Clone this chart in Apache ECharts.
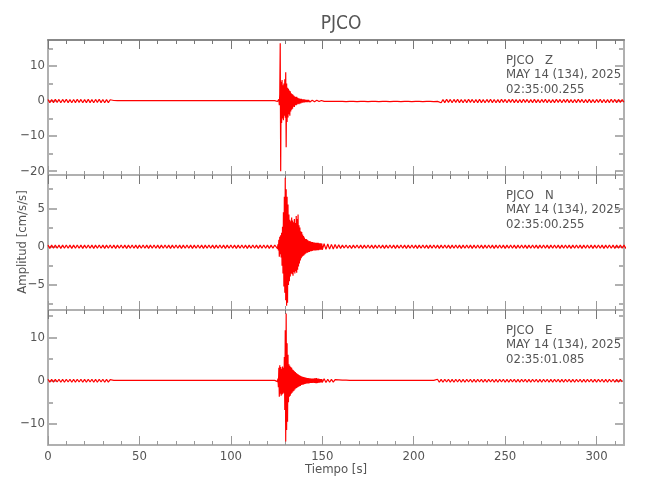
<!DOCTYPE html>
<html>
<head>
<meta charset="utf-8">
<script src="https://cdn.jsdelivr.net/npm/echarts@6/dist/echarts.min.js"></script>
<style>html,body{margin:0;padding:0;background:#fff}#c{width:650px;height:500px}</style>
</head>
<body>
<div id="c"></div>
<script>
// ---------- data ----------
const stationName = 'PJCO';
const components = ['Z', 'N', 'E'];
const dateText = 'MAY 14 (134), 2025';
const startTimes = ['02:35:00.255', '02:35:00.255', '02:35:01.085'];

const xMin = 0, xMax = 315;
const xMajor = [0, 50, 100, 150, 200, 250, 300];
const xMinor = [10,20,30,40,60,70,80,90,110,120,130,140,160,170,180,190,210,220,230,240,260,270,280,290,310];

const zRange = [-21.1, 17.4];
const nRange = [-8.26, 9.35];
const eRange = [-14.9, 16.4];
const zMajor = [-20, -10, 0, 10];
const zMinor = [-15, -5, 5, 15];
const nMajor = [-5, 0, 5];
const nMinor = [-7.5, -2.5, 2.5, 7.5];
const eMajor = [-10, 0, 10];
const eMinor = [-5, 5, 15];

// sampling: pre-event t = 0..125 s (1 s), event t = 125.5..149.75 s (0.25 s), post-event t = 150..315 s (1 s)
const preStart = 0, preStep = 1;
const evStart = 125.5, evStep = 0.25;
const postStart = 150, postStep = 1;

const zPre = [
0.45,-0.5,0.4,-0.45,0.5,-0.4,0.45,-0.5,0.45,-0.4,
0.5,-0.45,0.4,-0.5,0.45,-0.45,0.5,-0.4,0.45,-0.5,
0.4,-0.45,0.5,-0.45,0.4,-0.5,0.45,-0.4,0.5,-0.45,
0.45,-0.5,0.4,-0.45,0.35,
-0.2,0.15,-0.12,0.1,-0.15,0.12,-0.1,0.15,-0.12,0.1,
-0.15,0.12,-0.1,0.15,-0.12,0.1,-0.15,0.12,-0.1,0.15,
-0.12,0.1,-0.15,0.12,-0.1,0.15,-0.12,0.1,-0.15,0.12,
-0.1,0.15,-0.12,0.1,-0.15,0.12,-0.1,0.15,-0.12,0.1,
-0.15,0.12,-0.1,0.15,-0.12,0.1,-0.15,0.12,-0.1,0.15,
-0.12,0.1,-0.15,0.12,-0.1,0.15,-0.12,0.1,-0.15,0.12,
-0.1,0.15,-0.12,0.1,-0.15,0.12,-0.1,0.15,-0.12,0.1,
-0.15,0.12,-0.1,0.15,-0.12,0.1,-0.15,0.12,-0.1,0.15,
-0.12,0.1,-0.15,0.12,-0.1,0.15,-0.12,0.1,-0.15,0.12,
0.15];
const zEvent = [
-0.15,0.2,-0.3,0.5,
-1.2,2,16.5,-20,
5.5,-6.3,6,-5,
4.5,-5.5,5,-4.2,
6.2,-4.8,8.2,-13.2,
5,-6,3.8,-4.7,
3.5,-3.8,3,-4.2,
2.8,-3,2.2,-2.5,
2,-2.2,1.8,-1.6,
1.5,-1.7,1.3,-1.2,
1.1,-1.2,1.2,-1.0,
0.9,-0.8,0.8,-0.9,
0.7,-0.7,0.6,-0.7,
0.6,-0.5,0.5,-0.5,
0.45,-0.4,0.45,-0.4,
0.4,-0.35,0.35,-0.35,
0.3,-0.35,0.3,-0.3,
0.3,-0.25,0.25,-0.3,
0.25,-0.25,0.25,-0.2,
0.2,-0.25,0.2,-0.2,
0.2,-0.2,0.2,-0.18,
0.18,-0.2,0.2,-0.18,
0.18,-0.15,0.18,-0.15,
0.15,-0.15,0.15,-0.15,
0.15,-0.12];
const zPost = [
0.12,-0.12,0.15,-0.12,0.1,-0.12,0.12,-0.1,0.12,-0.12,0.1,
-0.12,0.1,-0.15,0.12,-0.1,0.15,-0.12,0.1,-0.15,0.12,
-0.1,0.15,-0.12,0.1,-0.15,0.12,-0.1,0.15,-0.12,0.1,
-0.15,0.12,-0.1,0.15,-0.12,0.1,-0.15,0.12,-0.1,0.15,
-0.12,0.1,-0.15,0.12,-0.1,0.15,-0.12,0.1,-0.15,0.12,
-0.1,0.15,-0.12,0.1,-0.15,0.12,-0.1,0.15,-0.12,0.1,
-0.15,0.12,-0.1,
0.45,-0.5,0.4,-0.45,0.5,-0.4,0.45,-0.5,0.45,-0.4,
0.5,-0.45,0.4,-0.5,0.45,-0.45,0.5,-0.4,0.45,-0.5,
0.4,-0.45,0.5,-0.45,0.4,-0.5,0.45,-0.4,0.5,-0.45,
0.45,-0.5,0.4,-0.45,0.5,-0.4,0.45,-0.5,0.45,-0.4,
0.5,-0.45,0.4,-0.5,0.45,-0.45,0.5,-0.4,0.45,-0.5,
0.4,-0.45,0.5,-0.45,0.4,-0.5,0.45,-0.4,0.5,-0.45,
0.45,-0.5,0.4,-0.45,0.5,-0.4,0.45,-0.5,0.45,-0.4,
0.5,-0.45,0.4,-0.5,0.45,-0.45,0.5,-0.4,0.45,-0.5,
0.4,-0.45,0.5,-0.45,0.4,-0.5,0.45,-0.4,0.5,-0.45,
0.45,-0.5,0.4,-0.45,0.5,-0.4,0.45,-0.5,0.45,-0.4,
0.4,-0.35];

const nPre = [
0.2,-0.22,0.2,-0.2,0.22,-0.2,0.2,-0.22,0.2,-0.2,
0.22,-0.2,0.2,-0.22,0.2,-0.2,0.22,-0.2,0.2,-0.22,
0.2,-0.2,0.22,-0.2,0.2,-0.22,0.2,-0.2,0.22,-0.2,
0.2,-0.22,0.2,-0.2,0.22,-0.2,0.2,-0.22,0.2,-0.2,
0.22,-0.2,0.2,-0.22,0.2,-0.2,0.22,-0.2,0.2,-0.22,
0.2,-0.2,0.22,-0.2,0.2,-0.22,0.2,-0.2,0.22,-0.2,
0.2,-0.22,0.2,-0.2,0.22,-0.2,0.2,-0.22,0.2,-0.2,
0.22,-0.2,0.2,-0.22,0.2,-0.2,0.22,-0.2,0.2,-0.22,
0.2,-0.2,0.22,-0.2,0.2,-0.22,0.2,-0.2,0.22,-0.2,
0.2,-0.22,0.2,-0.2,0.22,-0.2,0.2,-0.22,0.2,-0.2,
0.22,-0.2,0.2,-0.22,0.2,-0.2,0.22,-0.2,0.2,-0.22,
0.2,-0.2,0.22,-0.2,0.2,-0.22,0.2,-0.2,0.22,-0.2,
0.2,-0.22,0.2,-0.2,0.22,0.25];
const nEvent = [
-0.25,0.3,-0.5,0.9,
-1.3,1.3,-1.0,1.5,
-1.4,1.8,-2.5,2.6,
-3.5,4.5,-5.2,6.5,
-6,9,-7,7.5,
-7.7,6.5,-7.3,5.5,
-5,4.2,-4.5,3.5,
-3.9,3.3,-3.5,3.8,
-3.6,3.4,-3.8,3.2,
-3.3,3.6,-3.5,3.1,
-3.2,4.0,-3.4,3.6,
-3.0,4.2,-2.6,2.8,
-2.2,2.5,-1.8,2.0,
-1.5,1.9,-1.3,1.6,
-1.2,1.4,-1.1,1.2,
-1.0,1.0,-0.9,1.0,
-0.8,0.9,-0.8,0.8,
-0.7,0.7,-0.7,0.75,
-0.6,0.65,-0.6,0.6,
-0.55,0.6,-0.5,0.55,
-0.5,0.55,-0.5,0.5,
-0.5,0.5,-0.45,0.5,
-0.45,0.5,-0.45,0.45,
-0.4,0.45,-0.4,0.45,
-0.4,0.4];
const nPost = [
-0.4,0.38,-0.35,0.35,-0.32,0.3,-0.3,0.28,-0.25,0.25,-0.22,
0.2,-0.18,0.22,-0.2,0.18,-0.22,0.2,-0.18,0.22,-0.2,
0.2,-0.22,0.2,-0.2,0.22,-0.2,0.2,-0.22,0.2,-0.2,
0.22,-0.2,0.2,-0.22,0.2,-0.2,0.22,-0.2,0.2,-0.22,
0.2,-0.2,0.22,-0.2,0.2,-0.22,0.2,-0.2,0.22,-0.2,
0.2,-0.22,0.2,-0.2,0.22,-0.2,0.2,-0.22,0.2,-0.2,
0.22,-0.2,0.2,-0.22,0.2,-0.2,0.22,-0.2,0.2,-0.22,
0.2,-0.2,0.22,-0.2,0.2,-0.22,0.2,-0.2,0.22,-0.2,
0.2,-0.22,0.2,-0.2,0.22,-0.2,0.2,-0.22,0.2,-0.2,
0.22,-0.2,0.2,-0.22,0.2,-0.2,0.22,-0.2,0.2,-0.22,
0.2,-0.2,0.22,-0.2,0.2,-0.22,0.2,-0.2,0.22,-0.2,
0.2,-0.22,0.2,-0.2,0.22,-0.2,0.2,-0.22,0.2,-0.2,
0.22,-0.2,0.2,-0.22,0.2,-0.2,0.22,-0.2,0.2,-0.22,
0.2,-0.2,0.22,-0.2,0.2,-0.22,0.2,-0.2,0.22,-0.2,
0.2,-0.22,0.2,-0.2,0.22,-0.2,0.2,-0.22,0.2,-0.2,
0.22,-0.2,0.2,-0.22,0.2,-0.2,0.22,-0.2,0.2,-0.22,
0.2,-0.2,0.22,-0.2,0.2,-0.22,0.2,-0.2,0.22,-0.2,
0.1];

const ePre = [
0.35,-0.35,0.3,-0.35,0.35,-0.3,0.35,-0.35,0.3,-0.35,
0.35,-0.3,0.35,-0.35,0.3,-0.35,0.35,-0.3,0.35,-0.35,
0.3,-0.35,0.35,-0.3,0.35,-0.35,0.3,-0.35,0.35,-0.3,
0.35,-0.35,0.3,-0.3,0.25,
-0.15,0.1,-0.08,0.1,-0.1,0.08,-0.1,0.1,-0.08,0.1,
-0.1,0.08,-0.1,0.1,-0.08,0.1,-0.1,0.08,-0.1,0.1,
-0.08,0.1,-0.1,0.08,-0.1,0.1,-0.08,0.1,-0.1,0.08,
-0.1,0.1,-0.08,0.1,-0.1,0.08,-0.1,0.1,-0.08,0.1,
-0.1,0.08,-0.1,0.1,-0.08,0.1,-0.1,0.08,-0.1,0.1,
-0.08,0.1,-0.1,0.08,-0.1,0.1,-0.08,0.1,-0.1,0.08,
-0.1,0.1,-0.08,0.1,-0.1,0.08,-0.1,0.1,-0.08,0.1,
-0.1,0.08,-0.1,0.1,-0.08,0.1,-0.1,0.08,-0.1,0.1,
-0.08,0.1,-0.1,0.08,-0.1,0.1,-0.08,0.1,-0.1,0.08,
0.15];
const eEvent = [
-0.2,0.5,-1.5,3.0,
-3.7,3.6,-3.0,3.2,
-3.5,2.8,-3.2,3.3,
-3.0,3.0,-2.8,5.5,
-6.8,11.7,-14.1,15.6,
-11.4,8.7,-9.5,6,
-5,3.8,-3.7,3.5,
-3.5,3.2,-3.0,3.0,
-2.8,2.6,-2.5,2.4,
-2.3,2.2,-2.0,2.0,
-1.8,1.8,-1.7,1.6,
-1.5,1.5,-1.4,1.3,
-1.3,1.2,-1.2,1.1,
-1.0,1.0,-0.9,0.9,
-0.9,0.85,-0.8,0.8,
-0.75,0.75,-0.7,0.7,
-0.65,0.65,-0.6,0.6,
-0.6,0.55,-0.55,0.55,
-0.5,0.5,-0.5,0.5,
-0.5,0.5,-0.45,0.5,
-0.5,0.55,-0.5,0.55,
-0.55,0.6,-0.55,0.5,
-0.5,0.5,-0.45,0.45,
-0.45,0.4,-0.4,0.4,
-0.4,0.4];
const ePost = [
-0.4,0.45,-0.4,0.35,-0.35,0.3,-0.3,0.25,-0.2,0.2,-0.15,
0.12,-0.1,0.12,-0.1,0.08,-0.1,0.1,-0.08,0.1,
-0.1,0.08,-0.1,0.1,-0.08,0.1,-0.1,0.08,-0.1,0.1,
-0.08,0.1,-0.1,0.08,-0.1,0.1,-0.08,0.1,-0.1,0.08,
-0.1,0.1,-0.08,0.1,-0.1,0.08,-0.1,0.1,-0.08,0.1,
-0.1,0.08,-0.1,0.1,-0.08,0.1,-0.1,0.08,-0.1,0.1,
-0.08,0.1,-0.1,
0.35,-0.35,0.3,-0.35,0.35,-0.3,0.35,-0.35,0.3,-0.35,
0.35,-0.3,0.35,-0.35,0.3,-0.35,0.35,-0.3,0.35,-0.35,
0.3,-0.35,0.35,-0.3,0.35,-0.35,0.3,-0.35,0.35,-0.3,
0.35,-0.35,0.3,-0.35,0.35,-0.3,0.35,-0.35,0.3,-0.35,
0.35,-0.3,0.35,-0.35,0.3,-0.35,0.35,-0.3,0.35,-0.35,
0.3,-0.35,0.35,-0.3,0.35,-0.35,0.3,-0.35,0.35,-0.3,
0.35,-0.35,0.3,-0.35,0.35,-0.3,0.35,-0.35,0.3,-0.35,
0.35,-0.3,0.35,-0.35,0.3,-0.35,0.35,-0.3,0.35,-0.35,
0.3,-0.35,0.35,-0.3,0.35,-0.35,0.3,-0.35,0.35,-0.3,
0.35,-0.35,0.3,-0.35,0.35,-0.3,0.35,-0.35,0.3,-0.35,
0.3,-0.25];

// ---------- chart ----------
const FONT = "'Liberation Sans Narrow','DejaVu Sans Condensed','Roboto Condensed',sans-serif";
const TXT = '#555';
const AX = '#b0b0b0';

function build(pre, ev, post) {
  const d = [];
  pre.forEach((v, k) => d.push([preStart + k * preStep, v]));
  ev.forEach((v, k) => d.push([evStart + k * evStep, v]));
  post.forEach((v, k) => d.push([postStart + k * postStep, v]));
  return d;
}
const traces = [build(zPre, zEvent, zPost), build(nPre, nEvent, nPost), build(ePre, eEvent, ePost)];
const ranges = [zRange, nRange, eRange];
const majors = [zMajor, nMajor, eMajor];
const minors = [zMinor, nMinor, eMinor];

const L = 48, W = 576, H = 135, T0 = 40;
const grids = [0, 1, 2].map(i => ({left: L, top: T0 + i * H, width: W, height: H, containLabel: false}));

const fmt = v => (v < 0 ? '\u2212' + Math.abs(v) : String(v));

const xAxes = [], yAxes = [];
for (let i = 0; i < 3; i++) {
  const base = {type: 'value', gridIndex: i, min: xMin, max: xMax, splitLine: {show: false}};
  const topColor = i === 0 ? '#888' : AX;
  xAxes.push(Object.assign({}, base, {position: 'bottom',
    axisLine: {show: true, onZero: false, lineStyle: {color: AX, width: 2}},
    axisTick: {show: true, inside: true, length: 9, customValues: xMajor, lineStyle: {color: '#999', width: 1}},
    axisLabel: {show: i === 2, customValues: xMajor, color: TXT, fontFamily: FONT, fontSize: 13, margin: 5}}));
  xAxes.push(Object.assign({}, base, {position: 'bottom',
    axisLine: {show: false, onZero: false},
    axisTick: {show: true, inside: true, length: 4, customValues: xMinor, lineStyle: {color: '#999', width: 1}},
    axisLabel: {show: false}}));
  xAxes.push(Object.assign({}, base, {position: 'top',
    axisLine: {show: true, onZero: false, lineStyle: {color: topColor, width: 2}},
    axisTick: {show: true, inside: true, length: 9, customValues: xMajor, lineStyle: {color: '#777', width: 1}},
    axisLabel: {show: false}}));
  xAxes.push(Object.assign({}, base, {position: 'top',
    axisLine: {show: false, onZero: false},
    axisTick: {show: true, inside: true, length: 4, customValues: xMinor, lineStyle: {color: '#777', width: 1}},
    axisLabel: {show: false}}));

  const yb = {type: 'value', gridIndex: i, min: ranges[i][0], max: ranges[i][1], splitLine: {show: false}};
  yAxes.push(Object.assign({}, yb, {position: 'left',
    axisLine: {show: true, onZero: false, lineStyle: {color: AX, width: 2}},
    axisTick: {show: true, inside: true, length: 9, customValues: majors[i], lineStyle: {color: AX, width: 2}},
    axisLabel: {show: true, customValues: majors[i], formatter: fmt, color: TXT, fontFamily: FONT, fontSize: 13, margin: 3}}));
  yAxes.push(Object.assign({}, yb, {position: 'left',
    axisLine: {show: false, onZero: false},
    axisTick: {show: true, inside: true, length: 5, customValues: minors[i], lineStyle: {color: AX, width: 2}},
    axisLabel: {show: false}}));
  yAxes.push(Object.assign({}, yb, {position: 'right',
    axisLine: {show: true, onZero: false, lineStyle: {color: AX, width: 2}},
    axisTick: {show: true, inside: true, length: 9, customValues: majors[i], lineStyle: {color: AX, width: 2}},
    axisLabel: {show: false}}));
  yAxes.push(Object.assign({}, yb, {position: 'right',
    axisLine: {show: false, onZero: false},
    axisTick: {show: true, inside: true, length: 5, customValues: minors[i], lineStyle: {color: AX, width: 2}},
    axisLabel: {show: false}}));
}

const series = traces.map((d, i) => ({
  type: 'line', xAxisIndex: 4 * i, yAxisIndex: 4 * i, data: d,
  showSymbol: false, symbol: 'none', sampling: null, animation: false,
  lineStyle: {color: '#ff0000', width: 1.2}, z: 1
}));

const graphics = [];
components.forEach((c, i) => {
  const top = T0 + i * H;
  const lines = [stationName + '   ' + c, dateText, startTimes[i]];
  lines.forEach((s, k) => graphics.push({type: 'text', left: 506, top: top + 14 + k * 14.5,
    style: {text: s, fill: TXT, font: '13px ' + FONT}}));
});
graphics.push({type: 'text', x: 23, y: 242, rotation: Math.PI / 2,
  style: {text: 'Amplitud [cm/s/s]', fill: TXT, font: '13px ' + FONT, align: 'center', verticalAlign: 'middle'}});
graphics.push({type: 'text', x: 336, y: 470,
  style: {text: 'Tiempo [s]', fill: TXT, font: '13px ' + FONT, align: 'center', verticalAlign: 'middle'}});

const chart = echarts.init(document.getElementById('c'), null, {renderer: 'canvas'});
chart.setOption({
  animation: false,
  backgroundColor: '#fff',
  title: {text: stationName, left: 336, top: 10, textAlign: 'center',
    textStyle: {color: TXT, fontFamily: FONT, fontSize: 19, fontWeight: 'normal'}},
  grid: grids,
  xAxis: xAxes,
  yAxis: yAxes,
  series: series,
  graphic: graphics
});
</script>
</body>
</html>
